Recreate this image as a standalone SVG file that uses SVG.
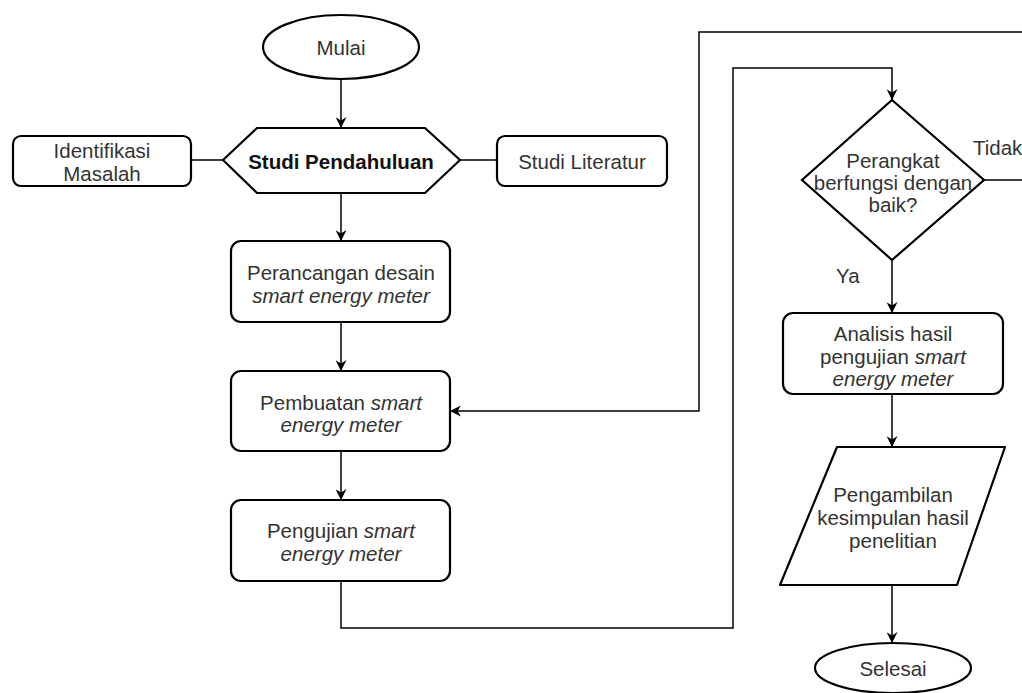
<svg xmlns="http://www.w3.org/2000/svg" width="1022" height="693" viewBox="0 0 1022 693">
<style>
.n{fill:#fff;stroke:#000;stroke-width:2.2}
.t{font-family:"Liberation Sans",Arial,sans-serif;font-size:20.5px;fill:#333;text-anchor:middle;dominant-baseline:central}
.b{font-weight:bold;fill:#111}
.i{font-style:italic}
.c{fill:none;stroke:#000;stroke-width:1.5}
.l{font-family:"Liberation Sans",Arial,sans-serif;font-size:20.5px;fill:#333;dominant-baseline:central}
</style>
<defs>
<marker id="a" viewBox="0 0 10 10" refX="9" refY="5" markerWidth="11" markerHeight="11" markerUnits="userSpaceOnUse" orient="auto">
<path d="M0,0 L10,5 L0,10 L3,5 Z" fill="#000"/>
</marker>
</defs>
<rect width="1022" height="693" fill="#fff"/>
<g id="connectors">
<path class="c" d="M341,80 V127" marker-end="url(#a)"/>
<path class="c" d="M191,160 H223"/>
<path class="c" d="M460,160 H497"/>
<path class="c" d="M341,193 V240" marker-end="url(#a)"/>
<path class="c" d="M341,322 V370" marker-end="url(#a)"/>
<path class="c" d="M341,451 V499" marker-end="url(#a)"/>
<path class="c" d="M341,581 V628 H733 V68 H892 V99" marker-end="url(#a)"/>
<path class="c" d="M984,180 H1030 V32 H699 V411 H451" marker-end="url(#a)"/>
<path class="c" d="M892,260 V312" marker-end="url(#a)"/>
<path class="c" d="M892,394 V446" marker-end="url(#a)"/>
<path class="c" d="M892,585 V642" marker-end="url(#a)"/>
<text class="l" x="973" y="147">Tidak</text>
<text class="l" x="836" y="275">Ya</text>
</g>
<g id="mulai">
<ellipse class="n" cx="341" cy="47" rx="78" ry="32"/>
<text class="t" x="341" y="47">Mulai</text>
</g>
<g id="studi-pendahuluan">
<polygon class="n" points="223,160 257,128 425,128 460,160 425,193 257,193"/>
<text class="t b" x="341" y="161">Studi Pendahuluan</text>
</g>
<g id="identifikasi">
<rect class="n" x="13" y="136" width="178" height="50" rx="8"/>
<text class="t" x="102" y="150">Identifikasi</text>
<text class="t" x="102" y="173">Masalah</text>
</g>
<g id="studi-literatur">
<rect class="n" x="497" y="136" width="170" height="50" rx="8"/>
<text class="t" x="582" y="161">Studi Literatur</text>
</g>
<g id="perancangan">
<rect class="n" x="231" y="241" width="219" height="81" rx="10"/>
<text class="t" x="341" y="272">Perancangan desain</text>
<text class="t i" x="341" y="295">smart energy meter</text>
</g>
<g id="pembuatan">
<rect class="n" x="231" y="371" width="219" height="80" rx="10"/>
<text class="t" x="341" y="402">Pembuatan <tspan class="i">smart</tspan></text>
<text class="t i" x="341" y="424">energy meter</text>
</g>
<g id="pengujian">
<rect class="n" x="231" y="500" width="219" height="81" rx="10"/>
<text class="t" x="341" y="530">Pengujian <tspan class="i">smart</tspan></text>
<text class="t i" x="341" y="553">energy meter</text>
</g>
<g id="keputusan">
<polygon class="n" points="892,100 984,180 892,260 802,180"/>
<text class="t" x="893" y="160">Perangkat</text>
<text class="t" x="893" y="182">berfungsi dengan</text>
<text class="t" x="893" y="204">baik?</text>
</g>
<g id="analisis">
<rect class="n" x="783" y="313" width="220" height="81" rx="10"/>
<text class="t" x="893" y="333">Analisis hasil</text>
<text class="t" x="893" y="356">pengujian <tspan class="i">smart</tspan></text>
<text class="t i" x="893" y="378">energy meter</text>
</g>
<g id="kesimpulan">
<polygon class="n" points="837,447 1005,447 957,585 780,585" stroke-linejoin="round"/>
<text class="t" x="893" y="494">Pengambilan</text>
<text class="t" x="893" y="517">kesimpulan hasil</text>
<text class="t" x="893" y="540">penelitian</text>
</g>
<g id="selesai">
<ellipse class="n" cx="893" cy="668" rx="78" ry="25"/>
<text class="t" x="893" y="668">Selesai</text>
</g>
</svg>
